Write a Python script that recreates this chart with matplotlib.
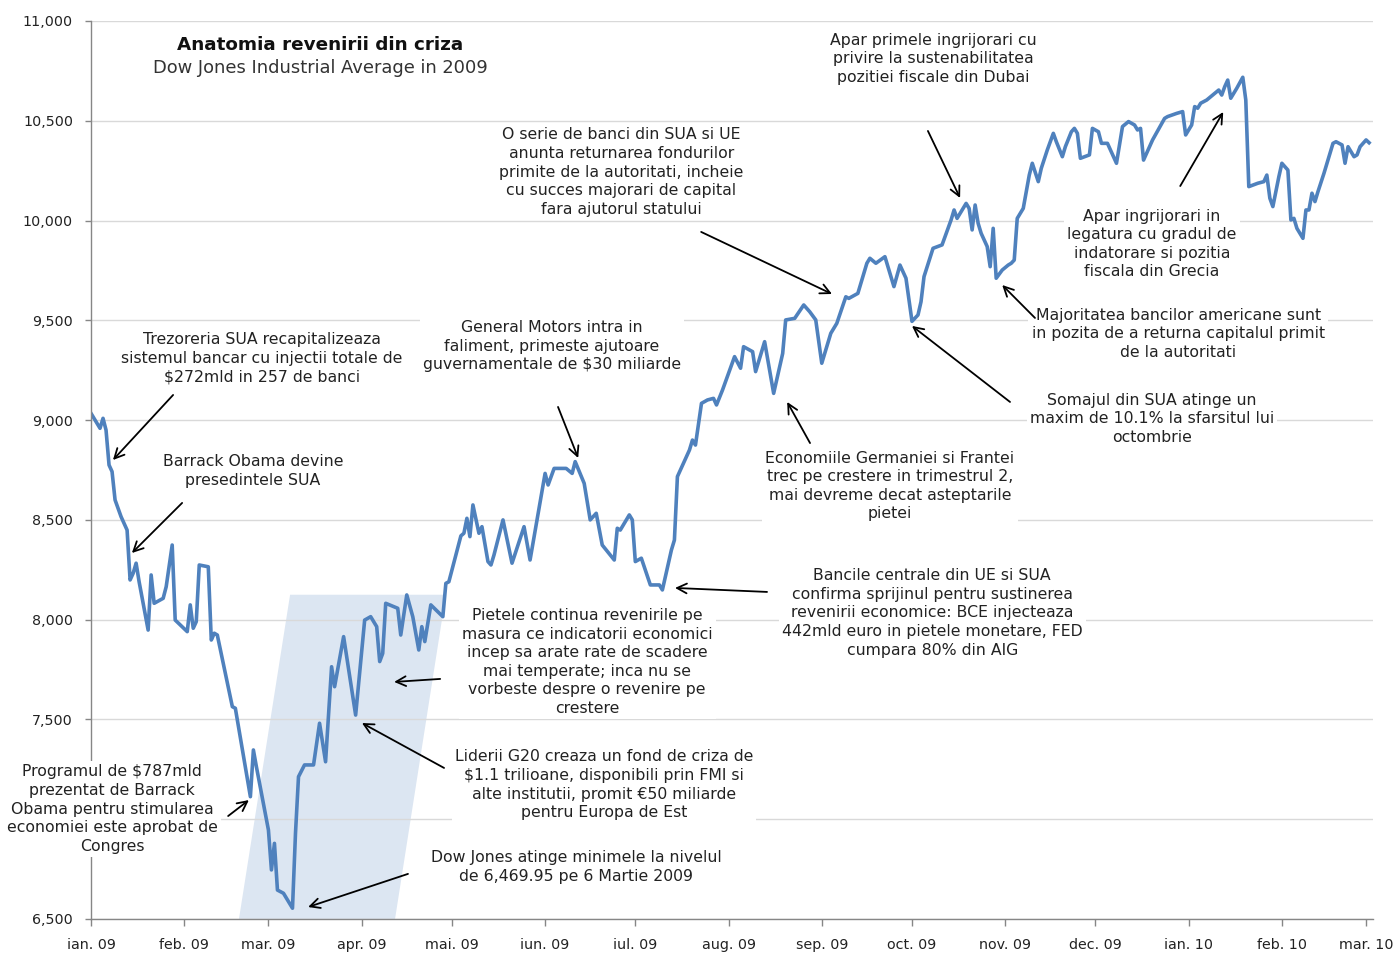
import matplotlib
matplotlib.use("Agg")
import matplotlib.pyplot as plt
import pandas as pd
from matplotlib.patches import Polygon

# Dow Jones close (days counted from 1 Jan 2009)
day_offset = [
    0, 3, 4, 5, 6, 7, 8, 10, 12, 13, 14, 15, 16, 19, 20, 21, 24, 25, 27, 28,
    32, 33, 34, 35, 36, 39, 40, 41, 42, 47, 48, 53, 54, 55, 59, 60, 61, 62, 64, 67,
    68, 69, 71, 74, 76, 78, 80, 81, 84, 88, 91, 93, 95, 96, 97, 98, 102, 103, 105, 107,
    109, 110, 111, 113, 117, 118, 119, 123, 124, 125, 126, 127, 129, 130, 132, 133, 134, 137, 140, 144,
    146, 151, 152, 154, 158, 160, 161, 164, 166, 168, 170, 174, 175, 176, 179, 180, 181, 183, 186, 189,
    190, 193, 194, 195, 199, 200, 201, 203, 205, 207, 208, 210, 212, 214, 216, 217, 220, 221, 224, 227,
    230, 231, 234, 237, 239, 241, 243, 246, 248, 251, 252, 255, 258, 259, 261, 264, 265, 267, 269, 271,
    273, 275, 276, 277, 280, 283, 286, 287, 288, 290, 291, 292, 293, 294, 295, 296, 298, 299, 300, 301,
    303, 305, 306, 307, 308, 310, 312, 313, 315, 316, 318, 320, 321, 323, 324, 326, 327, 328, 329, 332,
    333, 335, 336, 338, 339, 341, 343, 345, 347, 348, 349, 350, 353, 357, 358, 361, 363, 364, 366, 367,
    368, 369, 371, 373, 375, 376, 377, 378, 379, 380, 381, 383, 384, 385, 388, 390, 391, 392, 393, 394,
    395, 396, 398, 399, 400, 401, 403, 404, 405, 406, 407, 408, 410, 413, 414, 416, 417, 418, 420, 421,
    422, 424, 425,
]
dow_close = [
    9034, 8959, 9009, 8950, 8775, 8742, 8600, 8516, 8449, 8199, 8232, 8283, 8190, 7948, 8224, 8082, 8107, 8165, 8374, 7998,
    7940, 8074, 7957, 7990, 8274, 8265, 7898, 7932, 7923, 7564, 7556, 7113, 7347, 7263, 6946, 6746, 6879, 6645, 6629, 6554,
    6930, 7213, 7272, 7272, 7481, 7288, 7764, 7664, 7915, 7522, 7998, 8015, 7965, 7790, 7831, 8082, 8057, 7923, 8124, 8015,
    7848, 7965, 7890, 8074, 8015, 8182, 8190, 8420, 8433, 8508, 8416, 8575, 8433, 8466, 8291, 8274, 8324, 8500, 8283, 8466,
    8299, 8733, 8675, 8758, 8758, 8733, 8792, 8683, 8500, 8533, 8374, 8299, 8458, 8449, 8525, 8500, 8291, 8308, 8174, 8174,
    8149, 8349, 8399, 8717, 8850, 8900, 8875, 9084, 9101, 9109, 9076, 9151, 9234, 9318, 9260, 9368, 9343, 9243, 9393, 9134,
    9334, 9502, 9510, 9577, 9543, 9502, 9285, 9435, 9485, 9618, 9610, 9635, 9786, 9811, 9786, 9819, 9769, 9669, 9777, 9711,
    9495, 9527, 9593, 9719, 9861, 9878, 10003, 10053, 10011, 10061, 10086, 10061, 9953, 10078, 9986, 9936, 9870, 9769, 9961, 9711,
    9752, 9777, 9786, 9802, 10011, 10061, 10228, 10287, 10195, 10262, 10354, 10437, 10395, 10320, 10370, 10445, 10462, 10437, 10312, 10329,
    10462, 10445, 10387, 10387, 10354, 10287, 10471, 10496, 10479, 10454, 10462, 10303, 10404, 10512, 10521, 10537, 10546, 10429, 10479, 10571,
    10563, 10588, 10604, 10629, 10654, 10629, 10671, 10704, 10613, 10638, 10663, 10718, 10604, 10170, 10187, 10195, 10228, 10112, 10070, 10145,
    10220, 10287, 10253, 10003, 10011, 9961, 9911, 10053, 10053, 10137, 10095, 10145, 10237, 10387, 10395, 10379, 10287, 10370, 10320, 10329,
    10370, 10404, 10390,
]

month_labels = ['ian. 09', 'feb. 09', 'mar. 09', 'apr. 09', 'mai. 09', 'iun. 09', 'iul. 09',
                'aug. 09', 'sep. 09', 'oct. 09', 'nov. 09', 'dec. 09', 'ian. 10', 'feb. 10', 'mar. 10']
y_ticks = [6500, 7000, 7500, 8000, 8500, 9000, 9500, 10000, 10500, 11000]
# 7,000 is hidden behind a note box in the original
y_labels = ['6,500', '', '7,500', '8,000', '8,500', '9,000', '9,500', '10,000', '10,500', '11,000']

start = pd.Timestamp('2009-01-01')
month_days = (pd.date_range('2009-01-01', '2010-03-01', freq='MS') - start).days

# (text, text position, arrow tail, arrow head) in (day, index level)
notes = [
    ("Trezoreria SUA recapitalizeaza\nsistemul bancar cu injectii totale de\n$272mld in 257 de banci",
     (56.9, 9311), (27.3, 9126), (7.3, 8800)),
    ("Barrack Obama devine\npresedintele SUA",
     (53.9, 8745), (30.3, 8585), (13.6, 8334)),
    ("General Motors intra in\nfaliment, primeste ajutoare\nguvernamentale de $30 miliarde",
     (153.3, 9371), (155.3, 9066), (162.0, 8810)),
    ("O serie de banci din SUA si UE\nanunta returnarea fondurilor\nprimite de la autoritati, incheie\ncu succes majorari de capital\nfara ajutorul statului",
     (176.3, 10243), (202.9, 9943), (246.4, 9632)),
    ("Apar primele ingrijorari cu\nprivire la sustenabilitatea\npozitiei fiscale din Dubai",
     (280.0, 10810), (278.3, 10449), (289.0, 10113)),
    ("Apar ingrijorari in\nlegatura cu gradul de\nindatorare si pozitia\nfiscala din Grecia",
     (352.8, 9883), (362.2, 10173), (376.5, 10544)),
    ("Majoritatea bancilor americane sunt\nin pozita de a returna capitalul primit\nde la autoritati",
     (361.5, 9432), (313.9, 9512), (303.0, 9677)),
    ("Somajul din SUA atinge un\nmaxim de 10.1% la sfarsitul lui\noctombrie",
     (352.8, 9006), (305.6, 9091), (273.0, 9472)),
    ("Economiile Germaniei si Frantei\ntrec pe crestere in trimestrul 2,\nmai devreme decat asteptarile\npietei",
     (265.7, 8670), (239.1, 8885), (231.5, 9091)),
    ("Bancile centrale din UE si SUA\nconfirma sprijinul pentru sustinerea\nrevenirii economice: BCE injecteaza\n442mld euro in pietele monetare, FED\ncumpara 80% din AIG",
     (279.7, 8034), (224.8, 8139), (194.2, 8159)),
    ("Pietele continua revenirile pe\nmasura ce indicatorii economici\nincep sa arate rate de scadere\nmai temperate; inca nu se\nvorbeste despre o revenire pe\ncrestere",
     (165.0, 7788), (116.1, 7703), (100.8, 7688)),
    ("Liderii G20 creaza un fond de criza de\n$1.1 trilioane, disponibili prin FMI si\nalte institutii, promit €50 miliarde\npentru Europa de Est",
     (170.6, 7172), (117.4, 7257), (90.1, 7482)),
    ("Dow Jones atinge minimele la nivelul\nde 6,469.95 pe 6 Martie 2009",
     (161.3, 6761), (105.4, 6726), (72.2, 6560)),
    ("Programul de $787mld\nprezentat de Barrack\nObama pentru stimularea\neconomiei este aprobat de\nCongres",
     (7.0, 7051), (45.6, 7016), (52.5, 7096)),
]

fig = plt.figure(figsize=(13.97, 9.55), dpi=100)
ax = fig.add_axes([91 / 1397, 1 - 919 / 955, (1373 - 91) / 1397, (919 - 21) / 955])

# shaded recovery band
band = Polygon([(49.2, 6500), (101.1, 6500), (118.0, 8125), (66.2, 8125)],
               closed=True, facecolor='#dce6f2', edgecolor='none', zorder=0.3)
ax.add_patch(band)

ax.plot(day_offset, dow_close, color='#4f81bd', lw=2.6, solid_joinstyle='round', zorder=2)

ax.set_xlim(0, 426.3)
ax.set_ylim(6500, 11000)
ax.set_yticks(y_ticks)
ax.set_yticklabels(y_labels)
ax.set_xticks(month_days)
ax.set_xticklabels(month_labels)

ax.set_axisbelow(True)
ax.yaxis.grid(True, color='#d9d9d9', lw=1)
for s in ['top', 'right']:
    ax.spines[s].set_visible(False)
for s in ['left', 'bottom']:
    ax.spines[s].set_color('#868686')
    ax.spines[s].set_linewidth(1)
ax.tick_params(axis='y', length=4, width=1, color='#868686', pad=9, labelsize=10.3, labelcolor='#222222')
ax.tick_params(axis='x', length=5, width=1, color='#868686', pad=9, labelsize=10.3, labelcolor='#222222')

ax.text(76.2, 10880, 'Anatomia revenirii din criza', ha='center', va='center',
        fontsize=13.2, fontweight='bold', color='#111111')
ax.text(76.2, 10764, 'Dow Jones Industrial Average in 2009', ha='center', va='center',
        fontsize=12.9, color='#333333')

for txt, pos, tail, head in notes:
    ax.text(pos[0], pos[1], txt, ha='center', va='center', fontsize=11.3, color='#222222',
            linespacing=1.3, zorder=4, clip_on=False,
            bbox=dict(boxstyle='square,pad=0.2', facecolor='white', edgecolor='none'))
    ax.annotate('', xy=head, xytext=tail, zorder=5,
                arrowprops=dict(arrowstyle='->,head_length=0.7,head_width=0.35',
                                color='black', lw=1.3, shrinkA=0, shrinkB=0))

fig.savefig('out.png', dpi=100)
